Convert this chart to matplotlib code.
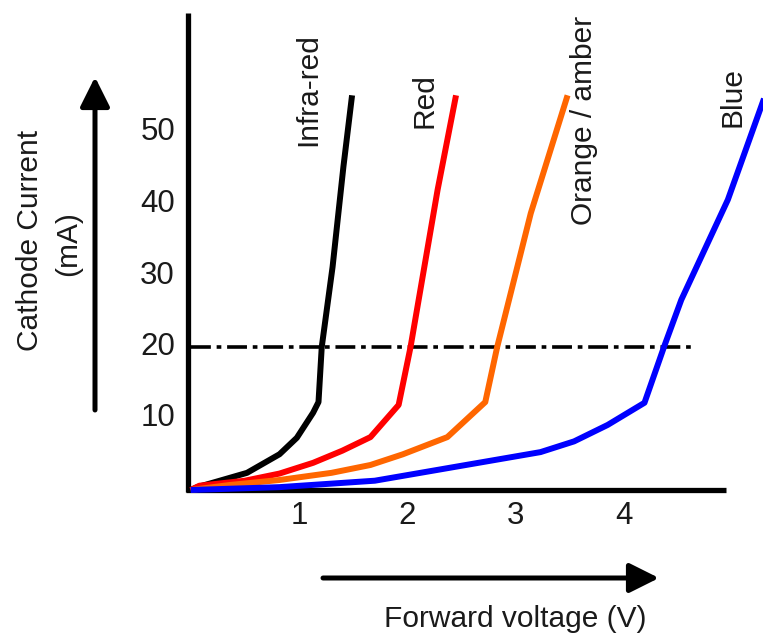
import matplotlib
matplotlib.use("Agg")
import matplotlib.pyplot as plt

plt.rcParams['font.family'] = ['Liberation Sans', 'DejaVu Sans']

# ---- data (forward voltage V, current mA) ----
ir_v = [0.0, 0.06, 0.20, 0.52, 0.82, 0.98, 1.13, 1.18, 1.21, 1.31, 1.41, 1.49]
ir_i = [0.0, 0.4, 1.0, 2.4, 5.0, 7.3, 10.8, 12.3, 20.0, 31.2, 45.2, 55.2]

red_v = [0.0, 0.08, 0.50, 0.82, 1.13, 1.40, 1.66, 1.92, 2.03, 2.28, 2.45]
red_i = [0.0, 0.6, 1.3, 2.3, 3.8, 5.5, 7.4, 11.9, 20.0, 42.0, 55.2]

orange_v = [0.0, 0.36, 0.82, 1.30, 1.66, 1.96, 2.37, 2.72, 2.83, 3.14, 3.48]
orange_i = [0.0, 0.7, 1.4, 2.4, 3.5, 5.0, 7.4, 12.3, 20.0, 38.7, 55.2]

blue_v = [0.0, 0.82, 1.70, 2.58, 3.23, 3.54, 3.85, 4.19, 4.37, 4.53, 4.96, 5.30]
blue_i = [0.0, 0.4, 1.3, 3.6, 5.3, 6.8, 9.1, 12.2, 20.0, 26.6, 40.6, 55.0]

ref_current = 20
ref_v_end = 4.66

x_ticks = [1, 2, 3, 4]
y_ticks = [10, 20, 30, 40, 50]

labels = ["Infra-red", "Red", "Orange / amber", "Blue"]
colors = ["#000000", "#FF0000", "#FF6600", "#0000FF"]

# ---- figure: axes covers whole figure, pixel mapping ----
W, H = 763, 642
fig = plt.figure(figsize=(W / 100, H / 100), dpi=100)
ax = fig.add_axes([0, 0, 1, 1])
ax.set_axis_off()

PX_V = 108.3      # px per volt
X0 = 190.7        # px of V=0
PX_MA = 7.15      # px per mA
Y0 = 490          # px of I=0

ax.set_xlim(-X0 / PX_V, (W - X0) / PX_V)
ax.set_ylim(-(H - Y0) / PX_MA, Y0 / PX_MA)

def px2x(px):
    return (px - X0) / PX_V

def py2y(py):
    return (Y0 - py) / PX_MA

# axes lines
ax.plot([px2x(188), px2x(188)], [py2y(492), py2y(13)], color='k', lw=3.8,
        solid_capstyle='butt', zorder=2)
ax.plot([px2x(186), px2x(726)], [0, 0], color='k', lw=3.8,
        solid_capstyle='butt', zorder=2)

# reference line at 20 mA
ax.plot([0, ref_v_end], [ref_current, ref_current], color='k', lw=2.6,
        linestyle=(0, (5.5, 1.6, 1.3, 1.6)), zorder=3)

# curves
for v, i, c in zip([ir_v, red_v, orange_v, blue_v],
                   [ir_i, red_i, orange_i, blue_i], colors):
    ax.plot(v, i, color=c, lw=4.3, solid_joinstyle='round',
            solid_capstyle='butt', zorder=4)

# curve labels
fs = 21.5
txt_color = '#1a1a1a'
label_pos = [(308, 90), (425, 101), (584, 120), (733, 97)]
for lab, (px, py) in zip(labels, label_pos):
    ax.text(px2x(px), py2y(py), lab, rotation=90, ha='center', va='center',
            fontsize=fs, color=txt_color)

# tick labels
for t in y_ticks:
    ax.text(px2x(175), t, str(t), ha='right', va='center', fontsize=22.5,
            color=txt_color)
for t in x_ticks:
    ax.text(t, py2y(516), str(t), ha='center', va='center', fontsize=22.5,
            color=txt_color)

# axis titles
ax.text(px2x(30), py2y(240), "Cathode Current", rotation=90, ha='center',
        va='center', fontsize=fs, color=txt_color)
ax.text(px2x(68), py2y(244), "(mA)", rotation=90, ha='center',
        va='center', fontsize=fs, color=txt_color)
ax.text(px2x(515), py2y(627), "Forward voltage (V)", ha='center',
        va='baseline', fontsize=fs, color=txt_color)

# arrows
arrow_style = "-|>,head_length=1.0,head_width=0.5"
ax.annotate('', xy=(px2x(95), py2y(77)), xytext=(px2x(95), py2y(410)),
            arrowprops=dict(arrowstyle=arrow_style, lw=3.6, color='k',
                            mutation_scale=18, shrinkA=0, shrinkB=0))
ax.annotate('', xy=(px2x(659), py2y(578)), xytext=(px2x(323), py2y(578)),
            arrowprops=dict(arrowstyle=arrow_style, lw=3.6, color='k',
                            mutation_scale=18, shrinkA=0, shrinkB=0))

fig.savefig("out.png", dpi=100)
